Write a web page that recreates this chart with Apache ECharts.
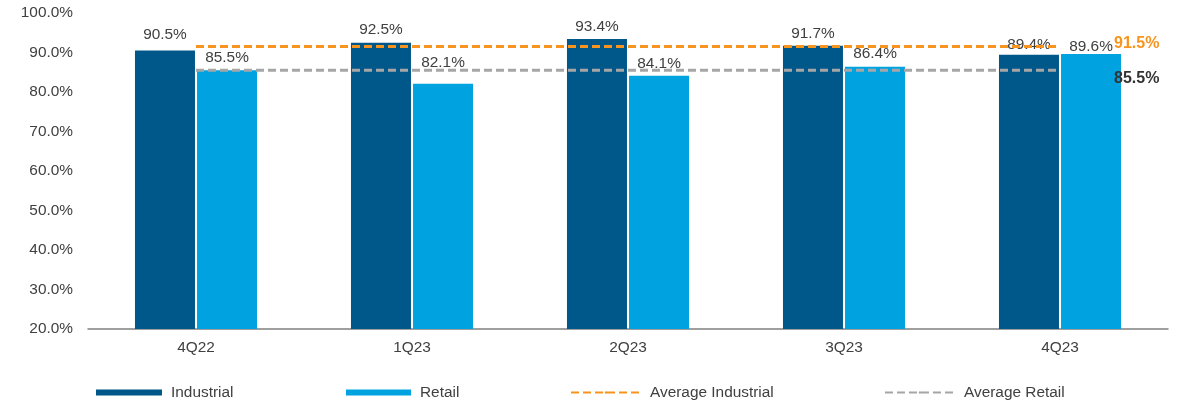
<!DOCTYPE html>
<html>
<head>
<meta charset="utf-8">
<script src="https://cdn.jsdelivr.net/npm/echarts@6/dist/echarts.min.js"></script>
<style>
  html, body { margin: 0; padding: 0; background: #fff; }
  #chart { width: 1178px; height: 403px; }
</style>
</head>
<body>
<div id="chart"></div>
<script>
// Quarterly occupancy by property type
const categories = ['4Q22', '1Q23', '2Q23', '3Q23', '4Q23'];
const industrial = [90.5, 92.5, 93.4, 91.7, 89.4];
const retail = [85.5, 82.1, 84.1, 86.4, 89.6];
const avgIndustrial = 91.5;
const avgRetail = 85.5;
const yTicks = { min: 20, max: 100, step: 10 };

const TEXT = '#404040';
const FONT = "'Liberation Sans', Arial, sans-serif";
const FS = 15.4;
const pct = v => Number(v).toFixed(1) + '%';

// Vertical nudges (px) for a few value labels that sit off the default spot
const industrialLabelShift = [-3, 0, 0, 0, 2];
const retailLabelShift = [0, -8, 0, 0, 5];

function barData(values, shifts) {
  return values.map((v, i) => shifts[i]
    ? { value: v, label: { offset: [0, shifts[i]] } }
    : v);
}

function barSeries(name, values, shifts, color, extra) {
  return Object.assign({
    name, type: 'bar', data: barData(values, shifts),
    barWidth: 60,
    itemStyle: { color },
    label: {
      show: true, position: 'top', distance: 5, color: TEXT, fontSize: FS,
      fontFamily: FONT, formatter: p => pct(p.value)
    },
    emphasis: { disabled: true },
    z: 2
  }, extra || {});
}

// Horizontal average line spanning all categories, labelled past its right end
function avgLine(name, avg, color, labelColor, offsetY) {
  return {
    name, type: 'line', data: categories.map(() => avg),
    symbol: 'none', z: 5,
    lineStyle: { color, width: 3, type: [8, 4] },
    itemStyle: { color },
    emphasis: { disabled: true },
    endLabel: {
      show: true, distance: 54, offset: [0, offsetY],
      formatter: () => pct(avg), color: labelColor, fontWeight: 'bold',
      fontSize: 16, fontFamily: FONT
    }
  };
}

const chart = echarts.init(document.getElementById('chart'));
const legendBase = {
  top: 385, padding: 0, itemGap: 0, selectedMode: false,
  textStyle: { color: TEXT, fontSize: FS, fontFamily: FONT, padding: [0, 0, 0, 4] }
};
const legendAt = (left, name, w, h, icon) =>
  Object.assign({}, legendBase, { left, data: [{ name, icon }], itemWidth: w, itemHeight: h });

chart.setOption({
  animation: false,
  textStyle: { fontFamily: FONT },
  grid: { left: 88, right: 10, top: 13, bottom: 74 },
  legend: [
    legendAt(96, 'Industrial', 66, 6, 'rect'),
    legendAt(346, 'Retail', 65, 6, 'rect'),
    legendAt(570, 'Average Industrial', 70, 3),
    legendAt(884, 'Average Retail', 70, 3)
  ],
  xAxis: {
    type: 'category', data: categories,
    axisLine: { lineStyle: { color: '#808080', width: 1.5 } },
    axisTick: { show: false },
    axisLabel: { color: TEXT, fontSize: FS, margin: 11, fontFamily: FONT }
  },
  yAxis: {
    type: 'value', min: yTicks.min, max: yTicks.max, interval: yTicks.step,
    splitLine: { show: false },
    axisLine: { show: false },
    axisTick: { show: false },
    axisLabel: { color: TEXT, fontSize: FS, margin: 15, formatter: pct, fontFamily: FONT }
  },
  series: [
    barSeries('Industrial', industrial, industrialLabelShift, '#00578A', { barGap: '3.4%' }),
    barSeries('Retail', retail, retailLabelShift, '#00A3E0'),
    avgLine('Average Industrial', avgIndustrial, '#F7941D', '#F7941D', -3),
    avgLine('Average Retail', avgRetail, '#A6A6A6', '#333333', 8)
  ]
});
</script>
</body>
</html>
